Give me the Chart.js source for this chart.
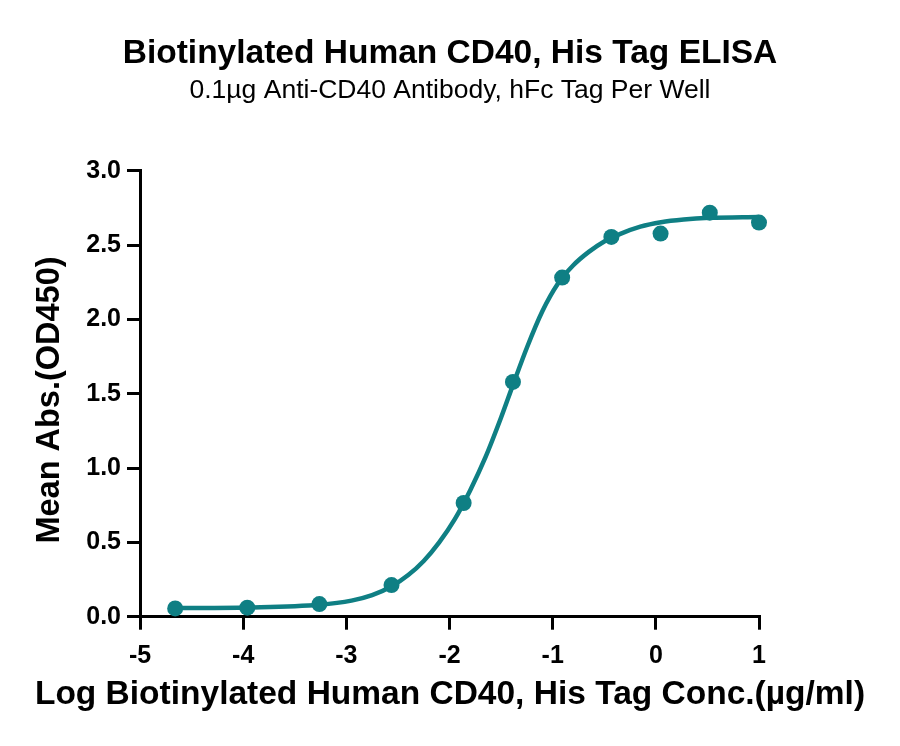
<!DOCTYPE html>
<html>
<head>
<meta charset="utf-8">
<script src="https://cdn.jsdelivr.net/npm/chart.js@4/dist/chart.umd.min.js"></script>
<style>
html,body{margin:0;padding:0;background:#fff;}
#wrap{width:900px;height:746px;position:relative;}
</style>
</head>
<body>
<div id="wrap"><canvas id="c"></canvas></div>
<script>
// measured points (log conc, OD450)
const logConc = [-4.659, -3.960, -3.261, -2.562, -1.863, -1.385, -0.908, -0.431, 0.046, 0.523, 1.000];
const meanAbs = [0.056, 0.061, 0.085, 0.213, 0.765, 1.580, 2.282, 2.556, 2.578, 2.719, 2.652];
// fitted curve
const curveX = [-4.66, -3.96, -3.26, -2.95, -2.75, -2.56, -2.40, -2.25, -2.10, -1.95, -1.80, -1.65, -1.50, -1.39, -1.25, -1.10, -0.95, -0.80, -0.65, -0.50, -0.35, -0.15, 0.05, 0.27, 0.52, 1.00];
const curveY = [0.058, 0.062, 0.080, 0.108, 0.145, 0.205, 0.280, 0.375, 0.500, 0.655, 0.850, 1.075, 1.340, 1.550, 1.810, 2.055, 2.240, 2.365, 2.455, 2.525, 2.575, 2.625, 2.655, 2.673, 2.684, 2.690];
const xTicks = [-5, -4, -3, -2, -1, 0, 1];
const yTicks = [0.0, 0.5, 1.0, 1.5, 2.0, 2.5, 3.0];
const titleText = 'Biotinylated Human CD40, His Tag ELISA';
const subtitleText = '0.1µg Anti-CD40 Antibody, hFc Tag Per Well';
const xTitle = 'Log Biotinylated Human CD40, His Tag Conc.(µg/ml)';
const yTitle = 'Mean Abs.(OD450)';

const teal = '#0f7f84';
const FONT = '"Liberation Sans", Arial, sans-serif';

const pts = logConc.map((x, i) => ({x: x, y: meanAbs[i]}));
const curve = curveX.map((x, i) => ({x: x, y: curveY[i]}));

// axis titles drawn as canvas text (centered on the page like the reference)
const axisTitles = {
  id: 'axisTitles',
  afterDraw(chart) {
    const ctx = chart.ctx;
    ctx.save();
    ctx.fillStyle = '#000';
    ctx.textAlign = 'center';
    ctx.textBaseline = 'middle';
    ctx.font = 'bold 33.5px ' + FONT;
    ctx.fillText(xTitle, 450, 695);
    ctx.translate(50, 400);
    ctx.rotate(-Math.PI / 2);
    ctx.font = 'bold 32.5px ' + FONT;
    ctx.fillText(yTitle, 0, 0);
    ctx.restore();
  }
};

new Chart(document.getElementById('c'), {
  type: 'scatter',
  data: {
    datasets: [
      {
        label: 'fit',
        data: curve,
        showLine: true,
        borderColor: teal,
        borderWidth: 4.5,
        pointRadius: 0,
        cubicInterpolationMode: 'monotone',
        fill: false,
        clip: false,
        order: 2
      },
      {
        label: 'data',
        data: pts,
        showLine: false,
        backgroundColor: teal,
        borderColor: teal,
        pointRadius: 8,
        pointBorderWidth: 0,
        clip: false,
        order: 1
      }
    ]
  },
  plugins: [axisTitles],
  options: {
    responsive: true,
    maintainAspectRatio: false,
    animation: false,
    events: [],
    layout: {padding: {left: 0, right: 0, top: 0, bottom: 0}},
    plugins: {
      legend: {display: false},
      tooltip: {enabled: false},
      title: {
        display: true,
        text: titleText,
        color: '#000',
        font: {family: FONT, size: 33.5, weight: 'bold'},
        padding: {top: 34, bottom: 0}
      },
      subtitle: {
        display: true,
        text: subtitleText,
        color: '#000',
        font: {family: FONT, size: 26.5, weight: 'normal'},
        padding: {top: 0.5, bottom: 64.4}
      }
    },
    scales: {
      x: {
        type: 'linear',
        min: -5,
        max: 1,
        afterFit: s => { s.height = 129.3; },
        afterBuildTicks: s => { s.ticks = xTicks.map(v => ({value: v})); },
        ticks: {
          color: '#000',
          font: {family: FONT, size: 25, weight: 'bold'},
          padding: 11,
          callback: v => String(v)
        },
        grid: {drawOnChartArea: false, color: '#000', lineWidth: 3, tickLength: 13, tickWidth: 3},
        border: {color: '#000', width: 3},
        title: {display: false}
      },
      y: {
        type: 'linear',
        min: 0,
        max: 3,
        afterFit: s => { s.width = 140; },
        afterBuildTicks: s => { s.ticks = yTicks.map(v => ({value: v})); },
        ticks: {
          color: '#000',
          font: {family: FONT, size: 25, weight: 'bold'},
          padding: 6,
          callback: v => Number(v).toFixed(1)
        },
        grid: {drawOnChartArea: false, color: '#000', lineWidth: 3, tickLength: 13, tickWidth: 3},
        border: {color: '#000', width: 3},
        title: {display: false}
      },
      yRight: {
        type: 'linear',
        position: 'right',
        min: 0,
        max: 3,
        afterFit: s => { s.width = 141; },
        ticks: {display: false},
        grid: {display: false, drawTicks: false},
        border: {display: false}
      }
    }
  }
});
</script>
</body>
</html>
